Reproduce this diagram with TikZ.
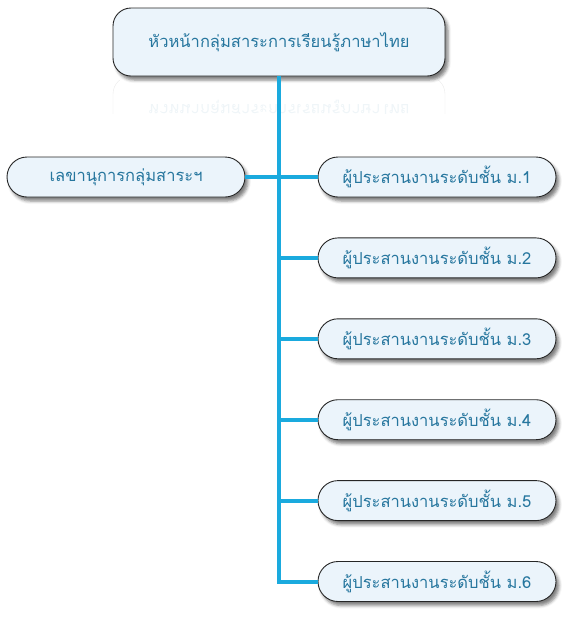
\documentclass[tikz,border=0pt]{standalone}
\usepackage{fontspec}
\usepackage{xcolor}
\usepackage{tikz}
\usetikzlibrary{positioning,shadows.blur}
\newfontfamily\thaifont[Script=Thai]{Loma}
\definecolor{bFill}{RGB}{235,244,251}
\definecolor{bLine}{RGB}{38,38,38}
\definecolor{bText}{RGB}{38,118,158}
\definecolor{bWire}{RGB}{26,170,222}
\tikzset{
  box/.style={rectangle, draw=bLine, fill=bFill, line width=0.9pt,
              text=bText, align=center, font=\thaifont\fontsize{16.5}{20}\selectfont,
              blur shadow={shadow xshift=3pt, shadow yshift=-4pt,
                           shadow blur radius=3pt, shadow opacity=50}},
  head/.style={box, rounded corners=18pt, minimum width=332pt, minimum height=68pt,
               font=\thaifont\fontsize{16.5}{20}\selectfont},
  pill/.style={box, rounded corners=20pt, minimum width=238pt, minimum height=40pt},
  mirror/.style={rectangle, draw=bLine!40, rounded corners=18pt, text=bText!30,
                 minimum width=332pt, minimum height=68pt, align=center,
                 font=\thaifont\fontsize{16.5}{20}\selectfont, yscale=-1, transform shape},
  wire/.style={draw=bWire, line width=4pt},
}
\begin{document}
\begin{tikzpicture}[x=1pt, y=-1pt]
  \useasboundingbox (0,0) rectangle (581,622);

  % faint reflection under the head box
  \begin{scope}
    \clip (100,80) rectangle (470,113);
    \node[mirror, opacity=0.25] (refl) at (279,110) {หัวหน้ากลุ่มสาระการเรียนรู้ภาษาไทย};
  \end{scope}

  \node[head] (head) at (279,42) {หัวหน้ากลุ่มสาระการเรียนรู้ภาษาไทย};
  \node[pill] (sec) at (126,177) {เลขานุการกลุ่มสาระฯ};
  \node[pill] (m1) at (437,177) {ผู้ประสานงานระดับชั้น ม.1};
  \node[pill, below=40pt of m1] (m2) {ผู้ประสานงานระดับชั้น ม.2};
  \node[pill, below=40pt of m2] (m3) {ผู้ประสานงานระดับชั้น ม.3};
  \node[pill, below=40pt of m3] (m4) {ผู้ประสานงานระดับชั้น ม.4};
  \node[pill, below=40pt of m4] (m5) {ผู้ประสานงานระดับชั้น ม.5};
  \node[pill, below=40pt of m5] (m6) {ผู้ประสานงานระดับชั้น ม.6};

  % trunk and branches
  \coordinate (tend) at (head.south |- m6.west);
  \draw[wire] (head.south) -- (tend) -- (m6.west);
  \draw[wire] (sec.east) -- (m1.west);
  \draw[wire] (m2.west -| tend) -- (m2.west);
  \draw[wire] (m3.west -| tend) -- (m3.west);
  \draw[wire] (m4.west -| tend) -- (m4.west);
  \draw[wire] (m5.west -| tend) -- (m5.west);
\end{tikzpicture}
\end{document}
